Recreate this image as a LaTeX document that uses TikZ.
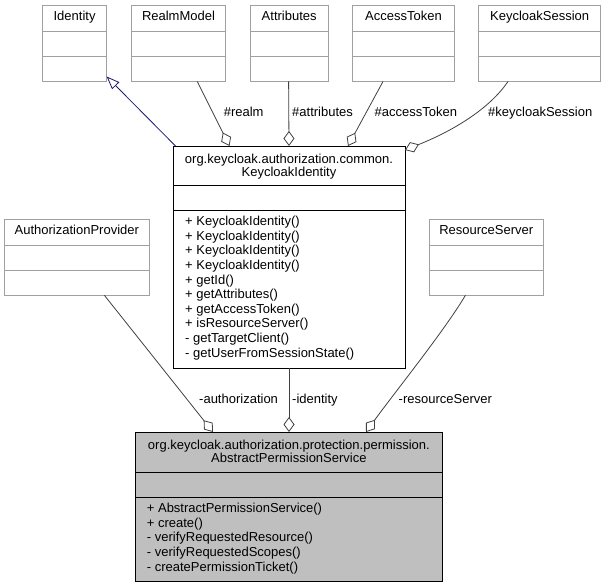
\documentclass[tikz,border=0pt]{standalone}
\usepackage{fontspec}
\setmainfont{Liberation Sans}
\usetikzlibrary{arrows.meta,calc}
\definecolor{edgegrey}{HTML}{404040}
\definecolor{boxgrey}{HTML}{A0A0A0}
\definecolor{navyedge}{HTML}{191970}
\definecolor{fillgrey}{HTML}{BFBFBF}
\tikzset{
  txt/.style={inner sep=0pt, text height=9.4pt, text depth=2.6pt, font=\fontsize{13}{14.6}\selectfont},
  lbl/.style={txt, anchor=west},
  greybox/.style={draw=boxgrey, line width=0.8pt, inner sep=0pt, outer sep=0pt, anchor=north west},
  blackbox/.style={draw=black, line width=0.9pt, inner sep=0pt, outer sep=0pt, anchor=north west},
  agg/.style={draw=edgegrey, line width=0.8pt, -{Diamond[fill=white, length=15pt, width=11pt]}},
  inh/.style={draw=navyedge, line width=0.8pt, -{Triangle[fill=white, length=13pt, width=10pt]}},
}
\newcommand{\smallclass}[5]{% name, x1, x2, y1, label
  \node[greybox, minimum width=#3-#2, minimum height=76] (#1) at (#2,#4) {};
  \draw[boxgrey, line width=0.8pt] (#2,{#4+26}) -- (#3,{#4+26});
  \draw[boxgrey, line width=0.8pt] (#2,{#4+51}) -- (#3,{#4+51});
  \node[txt] (#1-t) at ({(#2+#3)/2},{#4+12}) {#5};
}
\begin{document}
\begin{tikzpicture}[x=1pt,y=-1pt]
\useasboundingbox (0,0) rectangle (607,588);
% top row
\smallclass{identity}{42.5}{106.6}{5.5}{Identity}
\smallclass{realm}{131.5}{225.5}{5.5}{RealmModel}
\smallclass{attrs}{250}{328.4}{5.5}{Attributes}
\smallclass{token}{352.8}{454.2}{5.5}{AccessToken}
\smallclass{session}{478.5}{600.8}{5.5}{KeycloakSession}
% middle row
\smallclass{authprov}{4.6}{149}{219.3}{AuthorizationProvider}
\smallclass{resserv}{429}{543.5}{219.3}{ResourceServer}
% KeycloakIdentity
\node[blackbox, fill=white, minimum width=232, minimum height=222] (ki) at (173,146) {};
\draw[black, line width=0.9pt] (173,185) -- (405,185);
\draw[black, line width=0.9pt] (173,210.7) -- (405,210.7);
\node[txt] (ki-t1) at (289,160) {org.keycloak.authorization.common.};
\node[txt] (ki-t2) at (289,173.3) {KeycloakIdentity};
\foreach \m [count=\i from 0] in {+ KeycloakIdentity(),+ KeycloakIdentity(),+ KeycloakIdentity(),+ KeycloakIdentity(),+ getId(),+ getAttributes(),+ getAccessToken(),+ isResourceServer(),- getTargetClient(),- getUserFromSessionState()}
  \node[lbl] (ki-m\i) at (185,{222.3+14.6*\i}) {\m};
% AbstractPermissionService
\node[blackbox, fill=fillgrey, minimum width=307.7, minimum height=149.7] (aps) at (135,432) {};
\draw[black, line width=0.9pt] (135,472.7) -- (442.7,472.7);
\draw[black, line width=0.9pt] (135,497.7) -- (442.7,497.7);
\node[txt] (aps-t1) at (288.9,446) {org.keycloak.authorization.protection.permission.};
\node[txt] (aps-t2) at (288.9,459.3) {AbstractPermissionService};
\foreach \m [count=\i from 0] in {+ AbstractPermissionService(),+ create(),- verifyRequestedResource(),- verifyRequestedScopes(),- createPermissionTicket()}
  \node[lbl] (aps-m\i) at (146.7,{509.3+14.6*\i}) {\m};
% connectors top
\draw[inh] ($(ki.north west)+(2.5,0)$) -- ($(identity.south east)+(0,-5)$);
\draw[agg] ($(realm.south west)+(65.8,0)$) -- ($(ki.north west)+(56.5,0)$);
\draw[agg] ($(attrs.south west)+(38.6,0)$) -- (ki.north);
\draw[agg] ($(token.south west)+(30.2,0)$) -- ($(ki.north west)+(175,0)$);
\draw[agg] ($(session.south west)+(29.5,0)$) .. controls (490,108) and (455,130) .. ($(ki.north east)+(0,4)$);
\node[lbl] (l-realm) at (223.6,112.7) {\#realm};
\node[lbl] (l-attrs) at (292,112.7) {\#attributes};
\node[lbl] (l-token) at (374.5,112.7) {\#accessToken};
\node[lbl] (l-session) at (488,112.7) {\#keycloakSession};
% connectors bottom
\draw[agg] ($(authprov.south west)+(99.8,0)$) -- ($(aps.north west)+(78,0)$);
\draw[agg] (ki.south) -- (ki.south |- aps.north);
\draw[agg] ($(resserv.south west)+(36.4,0)$) .. controls (445,330) and (395,392) .. ($(aps.north west)+(231,0)$);
\node[lbl] (l-auth) at (199,400) {-authorization};
\node[lbl] (l-ident) at (292,400) {-identity};
\node[lbl] (l-res) at (398.5,400) {-resourceServer};
\end{tikzpicture}
\end{document}
